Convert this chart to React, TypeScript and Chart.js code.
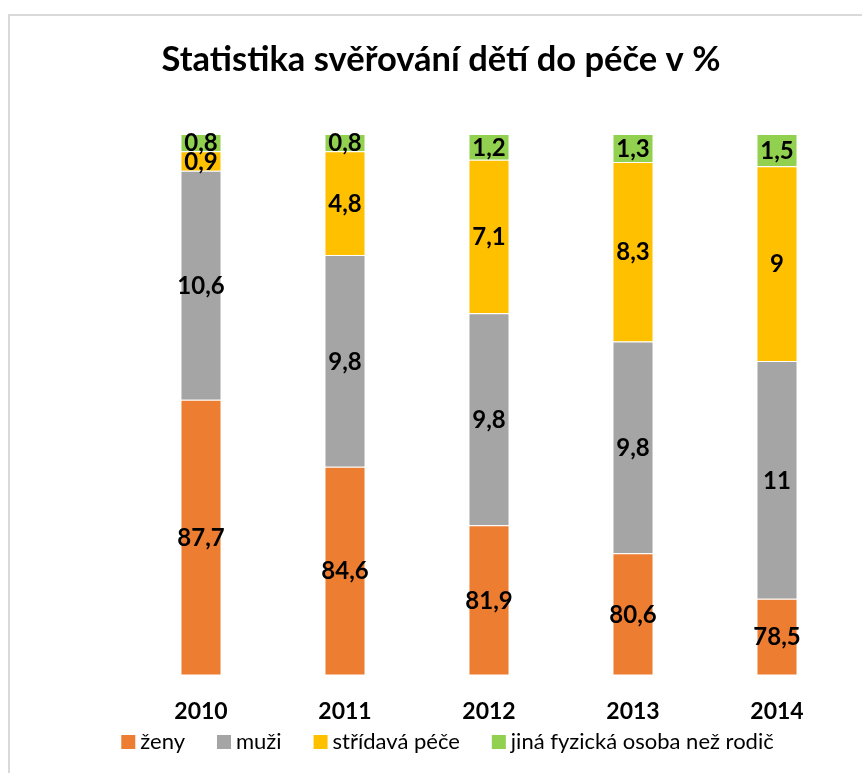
import React, { useEffect, useRef } from "react";
import { Chart, registerables } from "chart.js";

Chart.register(...registerables);

const TITLE = "Statistika svěřování dětí do péče v %";
const YEARS = ["2010", "2011", "2012", "2013", "2014"];
const SERIES_NAMES = ["ženy", "muži", "střídavá péče", "jiná fyzická osoba než rodič"];
const ZENY = [87.7, 84.6, 81.9, 80.6, 78.5];
const MUZI = [10.6, 9.8, 9.8, 9.8, 11];
const STRIDAVA = [0.9, 4.8, 7.1, 8.3, 9];
const JINA = [0.8, 0.8, 1.2, 1.3, 1.5];
const COLORS = ["#ED7D31", "#A5A5A5", "#FFC000", "#92D050"];
const Y_MIN = 75;
const Y_MAX = 100;

const FONT = "Lato, 'Open Sans', sans-serif";

const fmt = (v: number) => String(v).replace(".", ",");

const borderPlugin = {
  id: "outerBorder",
  beforeDraw(chart: any) {
    const ctx = chart.ctx;
    ctx.save();
    ctx.fillStyle = "#ffffff";
    ctx.fillRect(0, 0, chart.width, chart.height);
    ctx.strokeStyle = "#d9d9d9";
    ctx.lineWidth = 2;
    ctx.strokeRect(9, 15, chart.width + 20, chart.height + 20);
    ctx.restore();
  },
};

const labelPlugin = {
  id: "segLabels",
  afterDatasetsDraw(chart: any) {
    const ctx = chart.ctx;
    const area = chart.chartArea;
    ctx.save();
    ctx.font = `bold 24px ${FONT}`;
    ctx.fillStyle = "#000";
    ctx.textAlign = "center";
    ctx.textBaseline = "middle";
    chart.data.datasets.forEach((ds: any, di: number) => {
      const meta = chart.getDatasetMeta(di);
      meta.data.forEach((el: any, i: number) => {
        const top = Math.max(Math.min(el.y, el.base), area.top);
        const bot = Math.min(Math.max(el.y, el.base), area.bottom);
        const cy = (top + bot) / 2;
        ctx.fillText(fmt(ds.data[i]), el.x, cy + 1);
      });
    });
    ctx.restore();
  },
};

const legendPlugin = {
  id: "customLegend",
  afterDraw(chart: any) {
    const ctx = chart.ctx;
    ctx.save();
    ctx.font = `22px ${FONT}`;
    ctx.textBaseline = "middle";
    ctx.textAlign = "left";
    const box = 14;
    const gapText = 5;
    const gapItem = 32;
    const items = chart.data.datasets.map((ds: any) => ({
      text: ds.label,
      color: ds.backgroundColor,
      w: ctx.measureText(ds.label).width,
    }));
    const total =
      items.reduce((s: number, it: any) => s + box + gapText + it.w, 0) +
      gapItem * (items.length - 1);
    let x = 447.5 - total / 2;
    const cy = 742;
    items.forEach((it: any) => {
      ctx.fillStyle = it.color;
      ctx.fillRect(x, cy - box / 2, box, box);
      x += box + gapText;
      ctx.fillStyle = "#000";
      ctx.fillText(it.text, x, cy);
      x += it.w + gapItem;
    });
    ctx.restore();
  },
};

export default function App() {
  const ref = useRef<HTMLCanvasElement | null>(null);
  useEffect(() => {
    document.body.style.margin = "0";
    if (!ref.current) return;
    const values = [ZENY, MUZI, STRIDAVA, JINA];
    const chart = new Chart(ref.current, {
      type: "bar",
      data: {
        labels: YEARS,
        datasets: values.map((d, i) => ({
          label: SERIES_NAMES[i],
          data: d,
          backgroundColor: COLORS[i],
          borderColor: "rgba(255,255,255,0.6)",
          borderWidth: 1,
          categoryPercentage: 1,
          barPercentage: 0.285,
        })),
      },
      options: {
        responsive: false,
        animation: false,
        devicePixelRatio: 1,
        layout: { padding: { left: 33, right: 13, top: 0, bottom: 25 } },
        scales: {
          x: {
            stacked: true,
            grid: { display: false, drawTicks: false },
            border: { display: false },
            ticks: {
              color: "#000",
              font: { family: FONT, size: 23, weight: "bold" },
              padding: 23,
            },
          },
          y: {
            stacked: true,
            min: Y_MIN,
            max: Y_MAX,
            grid: { display: false, drawTicks: false },
            border: { display: false },
            ticks: { display: false },
            afterFit: (s: any) => {
              s.width = 96;
            },
          },
        },
        plugins: {
          title: {
            display: true,
            text: TITLE,
            color: "#000",
            font: { family: FONT, size: 34.5, weight: "bold" },
            padding: { top: 39, bottom: 53.5 },
          },
          legend: { display: false },
          tooltip: { enabled: false },
        },
      },
      plugins: [borderPlugin, labelPlugin, legendPlugin],
    } as any);
    return () => chart.destroy();
  }, []);
  return <canvas ref={ref} width={862} height={773} style={{ display: "block" }} />;
}
